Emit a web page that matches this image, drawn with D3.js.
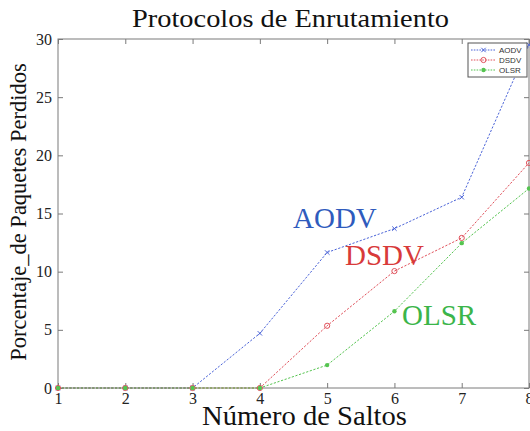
<!DOCTYPE html>
<html>
<head>
<meta charset="utf-8">
<script src="https://cdn.jsdelivr.net/npm/d3@7"></script>
<style>
  body { margin: 0; background: #fff; }
  svg { display: block; }
</style>
</head>
<body>
<div id="chart"></div>
<script>
// datos
const saltos = [1, 2, 3, 4, 5, 6, 7, 8];
const aodv = [0, 0, 0, 4.7, 11.65, 13.7, 16.4, 29.5];
const dsdv = [0, 0, 0, 0, 5.35, 10.05, 12.9, 19.35];
const olsr = [0, 0, 0, 0, 1.97, 6.6, 12.45, 17.15];
const protocolos = ['AODV', 'DSDV', 'OLSR'];
const yTicks = [0, 5, 10, 15, 20, 25, 30];

const W = 530, H = 431;
const mLeft = 58, mRight = 529, mTop = 39, mBottom = 388;
const serif = '"Liberation Serif", "Times New Roman", serif';
const axisColor = '#7a7a7a';

const svg = d3.select('#chart').append('svg').attr('width', W).attr('height', H);

const x = d3.scaleLinear().domain([1, 8]).range([mLeft, mRight]);
const y = d3.scaleLinear().domain([0, 30]).range([mBottom, mTop]);

// series: color de línea, color de texto, marcador, posición del rótulo
const series = [
  { name: 'AODV', values: aodv, line: '#4a63d8', text: '#2f5bbd', marker: 'x', lx: 293, ly: 228 },
  { name: 'DSDV', values: dsdv, line: '#e0505a', text: '#d83a3a', marker: 'o', lx: 345, ly: 265 },
  { name: 'OLSR', values: olsr, line: '#55c450', text: '#3bb54a', marker: '*', lx: 402, ly: 325 }
];

// marco de los ejes
svg.append('rect')
  .attr('x', mLeft).attr('y', mTop)
  .attr('width', mRight - mLeft).attr('height', mBottom - mTop)
  .attr('fill', 'none').attr('stroke', axisColor).attr('stroke-width', 1);

// ejes con marcas hacia dentro (estilo MATLAB)
const tickLen = 5;
const gx = svg.append('g').attr('transform', 'translate(0,' + mBottom + ')')
  .call(d3.axisBottom(x).tickValues(saltos).tickFormat(d3.format('d')).tickSizeInner(-tickLen).tickSizeOuter(0).tickPadding(5));
const gxTop = svg.append('g').attr('transform', 'translate(0,' + mTop + ')')
  .call(d3.axisTop(x).tickValues(saltos).tickFormat('').tickSizeInner(-tickLen).tickSizeOuter(0));
const gy = svg.append('g').attr('transform', 'translate(' + mLeft + ',0)')
  .call(d3.axisLeft(y).tickValues(yTicks).tickSizeInner(-tickLen).tickSizeOuter(0).tickPadding(6));
const gyRight = svg.append('g').attr('transform', 'translate(' + mRight + ',0)')
  .call(d3.axisRight(y).tickValues(yTicks).tickFormat('').tickSizeInner(-tickLen).tickSizeOuter(0));

[gx, gxTop, gy, gyRight].forEach(g => {
  g.select('.domain').remove();
  g.selectAll('line').attr('stroke', axisColor);
  g.selectAll('text')
    .attr('fill', '#222')
    .style('font-family', serif)
    .style('font-size', '16px');
});
gx.selectAll('text').attr('dy', '0.71em');

// líneas de cada protocolo
const line = d3.line().x((d, i) => x(saltos[i])).y(d => y(d));
const plot = svg.append('g');

series.forEach(s => {
  plot.append('path')
    .datum(s.values)
    .attr('d', line)
    .attr('fill', 'none')
    .attr('stroke', s.line)
    .attr('stroke-width', 1)
    .attr('stroke-dasharray', '2.2,1.6');
});

// marcadores
const drawMarker = (g, type, cx, cy, color) => {
  if (type === 'x') {
    g.append('path')
      .attr('d', 'M' + (cx - 2.2) + ',' + (cy - 2.2) + 'L' + (cx + 2.2) + ',' + (cy + 2.2) +
                 'M' + (cx - 2.2) + ',' + (cy + 2.2) + 'L' + (cx + 2.2) + ',' + (cy - 2.2))
      .attr('stroke', color).attr('stroke-width', 1);
  } else if (type === 'o') {
    g.append('circle').attr('cx', cx).attr('cy', cy).attr('r', 2.6)
      .attr('fill', 'none').attr('stroke', color).attr('stroke-width', 1);
  } else {
    g.append('circle').attr('cx', cx).attr('cy', cy).attr('r', 2.2)
      .attr('fill', color);
  }
};

series.forEach(s => {
  s.values.forEach((v, i) => drawMarker(plot, s.marker, x(saltos[i]), y(v), s.line));
});

// rótulos sobre el gráfico
series.forEach(s => {
  svg.append('text')
    .attr('x', s.lx).attr('y', s.ly)
    .attr('fill', s.text)
    .style('font-family', serif)
    .style('font-size', '29px')
    .text(s.name);
});

// leyenda
const leg = svg.append('g');
leg.append('rect')
  .attr('x', 468).attr('y', 43).attr('width', 59).attr('height', 34)
  .attr('fill', '#fff').attr('stroke', '#555').attr('stroke-width', 1);
series.forEach((s, i) => {
  const ry = 50 + i * 10;
  leg.append('line')
    .attr('x1', 471).attr('x2', 496).attr('y1', ry).attr('y2', ry)
    .attr('stroke', s.line).attr('stroke-width', 1).attr('stroke-dasharray', '1.6,1.2');
  drawMarker(leg, s.marker, 483.5, ry, s.line);
  leg.append('text')
    .attr('x', 499).attr('y', ry).attr('dy', '0.35em')
    .attr('fill', '#333')
    .style('font-family', '"Liberation Sans", Arial, sans-serif')
    .style('font-size', '8px')
    .text(protocolos[i]);
});

// título y etiquetas de los ejes
svg.append('text')
  .attr('x', 132).attr('y', 27)
  .attr('textLength', 317).attr('lengthAdjust', 'spacingAndGlyphs')
  .attr('fill', '#111')
  .style('font-family', serif)
  .style('font-size', '26px')
  .text('Protocolos de Enrutamiento');

svg.append('text')
  .attr('x', 202).attr('y', 425)
  .attr('textLength', 205).attr('lengthAdjust', 'spacingAndGlyphs')
  .attr('fill', '#111')
  .style('font-family', serif)
  .style('font-size', '27px')
  .text('Número de Saltos');

svg.append('text')
  .attr('transform', 'translate(26,212) rotate(-90)')
  .attr('text-anchor', 'middle')
  .attr('fill', '#111')
  .style('font-family', serif)
  .style('font-size', '22.5px')
  .text('Porcentaje_de Paquetes Perdidos');
</script>
</body>
</html>
